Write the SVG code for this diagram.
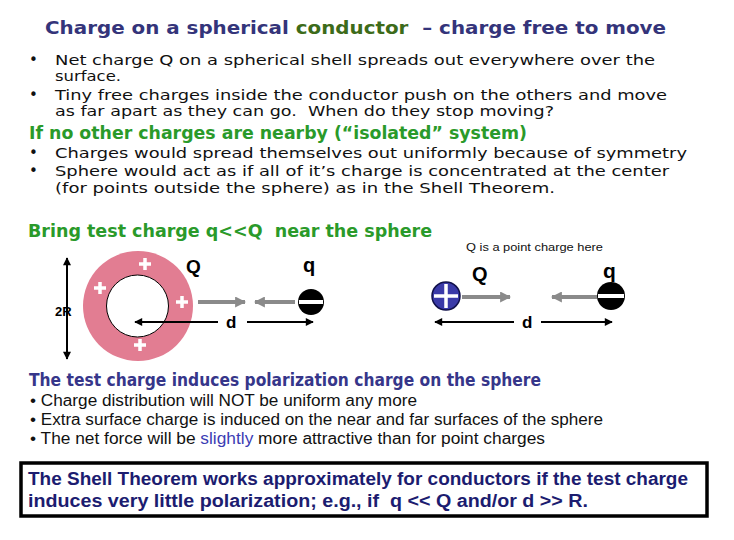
<svg xmlns="http://www.w3.org/2000/svg" width="734" height="540" viewBox="0 0 734 540">
<style>
text{white-space:pre}
.title{font-family:"DejaVu Sans",Verdana,sans-serif;font-weight:bold;font-size:18px;fill:#34347a}
.green1{fill:#3d6b1a}
.body{font-family:"DejaVu Sans",Verdana,sans-serif;font-size:14px;fill:#111}
.head{font-family:"DejaVu Sans","Liberation Sans",sans-serif;font-weight:bold;font-size:18px;fill:#2a9a2a}
.headb{font-family:"DejaVu Sans","Liberation Sans",sans-serif;font-weight:bold;font-size:17px;fill:#36368a}
.arial{font-family:"Liberation Sans",Arial,sans-serif;font-size:16px;fill:#111}
.blue{fill:#3c3cb4}
.box{font-family:"Liberation Sans",Arial,sans-serif;font-weight:bold;font-size:18px;fill:#1c1c70}
.lab{font-family:"Liberation Sans",Arial,sans-serif;font-weight:bold;fill:#000}
.blk{stroke:#000;stroke-width:2;fill:none}
.gry{stroke:#8a8a8a;stroke-width:4;fill:none}
.wp{stroke:#fff;stroke-width:3.5;fill:none}
</style>
<defs>
<marker id="ab" viewBox="0 0 10 10" refX="9" refY="5" markerWidth="9" markerHeight="8" markerUnits="userSpaceOnUse" orient="auto-start-reverse"><path d="M0,0L10,5L0,10z" fill="#000"/></marker>
<marker id="ag" viewBox="0 0 10 10" refX="9" refY="5" markerWidth="11" markerHeight="11" markerUnits="userSpaceOnUse" orient="auto"><path d="M0,0L10,5L0,10z" fill="#8a8a8a"/></marker>
</defs>
<rect width="734" height="540" fill="#fff"/>

<g id="title"><text class="title" x="45" y="34" textLength="621" lengthAdjust="spacingAndGlyphs">Charge on a spherical <tspan class="green1">conductor</tspan>  – charge free to move</text></g>

<g id="intro" class="body">
<text x="29" y="65" font-size="15">•</text>
<text x="55" y="65" textLength="600" lengthAdjust="spacingAndGlyphs">Net charge Q on a spherical shell spreads out everywhere over the</text>
<text x="55" y="81" textLength="66" lengthAdjust="spacingAndGlyphs">surface.</text>
<text x="29" y="100" font-size="15">•</text>
<text x="55" y="100" textLength="612" lengthAdjust="spacingAndGlyphs">Tiny free charges inside the conductor push on the others and move</text>
<text x="55" y="116" textLength="499" lengthAdjust="spacingAndGlyphs">as far apart as they can go.  When do they stop moving?</text>
</g>

<g id="isolated">
<text class="head" x="29" y="139" textLength="498" lengthAdjust="spacingAndGlyphs">If no other charges are nearby (“isolated” system)</text>
<g class="body">
<text x="29" y="158" font-size="15">•</text>
<text x="55" y="158" textLength="632" lengthAdjust="spacingAndGlyphs">Charges would spread themselves out uniformly because of symmetry</text>
<text x="29" y="176" font-size="15">•</text>
<text x="55" y="176" textLength="614" lengthAdjust="spacingAndGlyphs">Sphere would act as if all of it’s charge is concentrated at the center</text>
<text x="55" y="193" textLength="500" lengthAdjust="spacingAndGlyphs">(for points outside the sphere) as in the Shell Theorem.</text>
</g>
</g>

<g id="bring"><text class="head" x="28" y="237" textLength="404" lengthAdjust="spacingAndGlyphs">Bring test charge q&lt;&lt;Q  near the sphere</text></g>

<g id="sphere">
<circle cx="138" cy="306" r="55" fill="#e27d92"/>
<circle cx="137.5" cy="306" r="31" fill="#fff" stroke="#000" stroke-width="1"/>
<path class="wp" d="M139,264h12M145,258v12M94,288h12M100,282v12M176,302h12M182,296v12M134,345h12M140,339v12"/>
<text class="lab" x="186" y="273" font-size="19">Q</text>
<text class="lab" x="55" y="316" font-size="13">2R</text>
</g>

<g id="test-charge-left">
<circle cx="311" cy="302" r="13" fill="#000"/>
<rect x="299" y="300" width="24" height="4" fill="#fff"/>
<text class="lab" x="303" y="272" font-size="20">q</text>
</g>

<g id="point-charges">
<text x="466" y="251" font-family="Liberation Sans,Arial,sans-serif" font-size="11.5" fill="#111" textLength="137" lengthAdjust="spacingAndGlyphs">Q is a point charge here</text>
<circle cx="446" cy="296" r="14" fill="#3a3aa8" stroke="#10104a" stroke-width="1.5"/>
<path class="wp" d="M434,296h24M446,284v24"/>
<text class="lab" x="472" y="281" font-size="20">Q</text>
<circle cx="611" cy="296" r="14" fill="#000"/>
<rect x="598" y="294" width="26" height="4" fill="#fff"/>
<text class="lab" x="603" y="278" font-size="21">q</text>
</g>

<g id="connectors">
<line class="blk" x1="67" y1="258" x2="67" y2="359" marker-start="url(#ab)" marker-end="url(#ab)"/>
<line class="blk" x1="218" y1="322" x2="135" y2="322" marker-end="url(#ab)"/>
<line class="blk" x1="247" y1="322" x2="313" y2="322" marker-end="url(#ab)"/>
<line class="gry" x1="198" y1="302" x2="245" y2="302" marker-end="url(#ag)"/>
<line class="gry" x1="295" y1="302" x2="255" y2="302" marker-end="url(#ag)"/>
<line class="blk" x1="514" y1="322" x2="435" y2="322" marker-end="url(#ab)"/>
<line class="blk" x1="541" y1="322" x2="612" y2="322" marker-end="url(#ab)"/>
<line class="gry" x1="462" y1="297" x2="510" y2="297" marker-end="url(#ag)"/>
<line class="gry" x1="597" y1="297" x2="552" y2="297" marker-end="url(#ag)"/>
<text class="lab" x="226" y="328" font-size="17">d</text>
<text class="lab" x="522" y="328" font-size="17">d</text>
</g>

<g id="polarization">
<text class="headb" x="29" y="386" textLength="512" lengthAdjust="spacingAndGlyphs">The test charge induces polarization charge on the sphere</text>
<text class="arial" x="30" y="406" textLength="387" lengthAdjust="spacingAndGlyphs">• Charge distribution will NOT be uniform any more</text>
<text class="arial" x="30" y="425" textLength="573" lengthAdjust="spacingAndGlyphs">• Extra surface charge is induced on the near and far surfaces of the sphere</text>
<text class="arial" x="30" y="444" textLength="515" lengthAdjust="spacingAndGlyphs">• The net force will be <tspan class="blue">slightly</tspan> more attractive than for point charges</text>
</g>

<g id="summary-box">
<rect x="21" y="463" width="686" height="53" fill="#fff" stroke="#000" stroke-width="3.5"/>
<text class="box" x="28" y="485" textLength="660" lengthAdjust="spacingAndGlyphs">The Shell Theorem works approximately for conductors if the test charge</text>
<text class="box" x="28" y="507" textLength="560" lengthAdjust="spacingAndGlyphs">induces very little polarization; e.g., if  q &lt;&lt; Q and/or d &gt;&gt; R.</text>
</g>
</svg>
